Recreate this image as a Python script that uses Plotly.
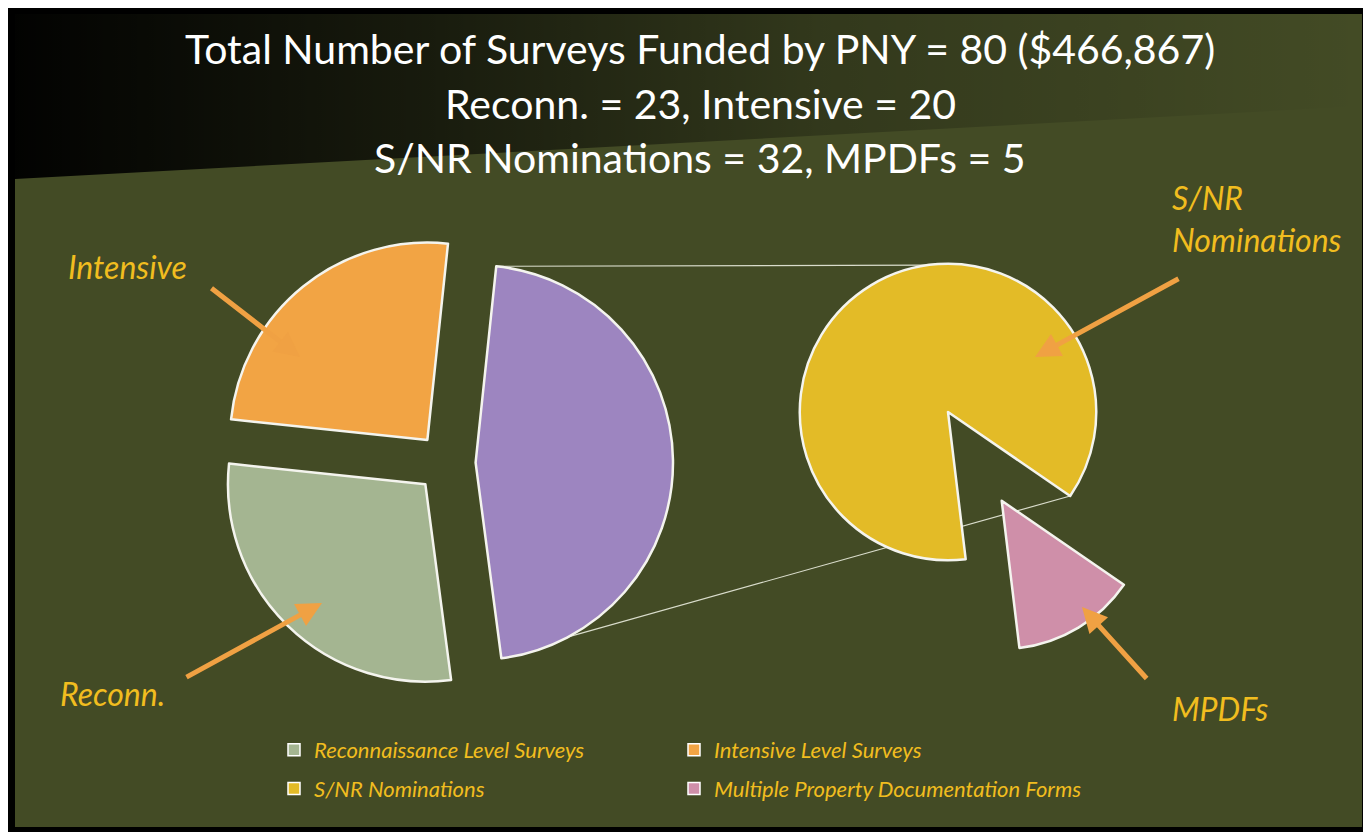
import math
import plotly.graph_objects as go

# ---------------- data ----------------
categories = ["Reconnaissance Level Surveys", "Intensive Level Surveys",
              "S/NR Nominations", "Multiple Property Documentation Forms"]
values = [23, 20, 32, 5]
colors = ["#a4b591", "#f2a444", "#e3bb27", "#cf8fa9"]
other_color = "#9d85c0"
short_labels = ["Reconn.", "Intensive", "S/NR<br>Nominations", "MPDFs"]
total_cost = "$466,867"

# page offset (body margin) and figure size
OX, OY = 8, 8
FW, FH = 1363, 824
OLIVE = "#434b25"
GOLD = "#f1bd1f"
ARROW = "#f0a143"
FONT = "Lato"

recon, intens, snr, mpdf = values
left_vals = [snr + mpdf, recon, intens]
left_cols = [other_color, colors[0], colors[1]]
left_pull = [0.15, 0.15, 0.15]
left_rot = 6
right_vals = [mpdf, snr]
right_cols = [colors[3], colors[2]]
right_pull = [0.7, 0.0]
right_rot = 124.5


def dom(x0, x1, y0, y1):
    """screen-pixel box -> pie domain fractions"""
    return dict(x=[(x0 - OX) / FW, (x1 - OX) / FW],
                y=[1 - (y1 - OY) / FH, 1 - (y0 - OY) / FH])


left_dom = dom(219, 673, 236, 690)
right_dom = dom(696, 1200, 160, 664)


def geom(d, pulls):
    w = FW * (d["x"][1] - d["x"][0])
    h = FH * (d["y"][1] - d["y"][0])
    r = min(w, h) / (2 + 2 * max(pulls))
    cx = OX + FW * (d["x"][0] + d["x"][1]) / 2
    cy = OY + FH * (1 - d["y"][0]) - h / 2
    return cx, cy, r


def pt(cx, cy, r, ang):
    a = math.radians(ang)
    return cx + r * math.sin(a), cy - r * math.cos(a)


# connector lines derived from the pie layout
lcx, lcy, lr = geom(left_dom, left_pull)
p_start = left_rot
p_end = left_rot + 360 * left_vals[0] / sum(left_vals)
p_mid = (p_start + p_end) / 2
ox, oy = pt(0, 0, left_pull[0] * lr, p_mid)
top_a = pt(lcx + ox, lcy + oy, lr, p_start)
bot_a = pt(lcx + ox, lcy + oy, lr, 152)
rcx, rcy, rr = geom(right_dom, right_pull)
top_b = pt(rcx, rcy, rr, 352)
bot_b = pt(rcx, rcy, rr, right_rot)

fig = go.Figure()

# dark gradient corner of the slide background
fig.add_trace(go.Scatter(
    x=[15, 1362, 1362, 15, 15], y=[14, 14, 106, 179, 14],
    fill="toself", mode="lines", line=dict(width=0),
    fillgradient=dict(type="horizontal",
                      colorscale=[[0, "rgba(0,0,0,0.97)"], [0.3, "rgba(0,0,0,0.65)"],
                                  [0.6, "rgba(0,0,0,0.25)"], [1, "rgba(0,0,0,0)"]]),
    hoverinfo="skip", showlegend=False))

# legend entries
for i, (name, col) in enumerate(zip(categories, colors)):
    fig.add_trace(go.Scatter(
        x=[-100], y=[-100], mode="markers", name=name,
        marker=dict(symbol="square", size=12, color=col,
                    line=dict(color="white", width=1.5)),
        legend="legend" if i in (0, 2) else "legend2",
        legendgroup=name, hoverinfo="skip"))

fig.add_trace(go.Pie(
    values=left_vals, labels=["Other", categories[0], categories[1]],
    marker=dict(colors=left_cols, line=dict(color="#f4f4ee", width=2.5)),
    pull=left_pull, rotation=left_rot, direction="clockwise", sort=False,
    textinfo="none", hoverinfo="skip", showlegend=False, domain=left_dom))

fig.add_trace(go.Pie(
    values=right_vals, labels=[categories[3], categories[2]],
    marker=dict(colors=right_cols, line=dict(color="#f4f4ee", width=2.5)),
    pull=right_pull, rotation=right_rot, direction="clockwise", sort=False,
    textinfo="none", hoverinfo="skip", showlegend=False, domain=right_dom))

shapes = [
    dict(type="rect", xref="x", yref="y", x0=15, x1=1362, y0=14, y1=827,
         fillcolor=OLIVE, line=dict(width=0), layer="below"),
    dict(type="line", xref="x", yref="y", x0=top_a[0], y0=top_a[1], x1=top_b[0], y1=top_b[1],
         line=dict(color="#d9dccb", width=1.2), layer="below"),
    dict(type="line", xref="x", yref="y", x0=bot_a[0], y0=bot_a[1], x1=bot_b[0], y1=bot_b[1],
         line=dict(color="#d9dccb", width=1.2), layer="below"),
]

title_lines = [
    f"Total Number of Surveys Funded by PNY = {sum(values)} ({total_cost})",
    f"Reconn. = {recon}, Intensive = {intens}",
    f"S/NR Nominations = {snr}, MPDFs = {mpdf}",
]
annotations = []
for txt, yy in zip(title_lines, [48, 103, 157]):
    annotations.append(dict(text=txt, x=700, y=yy, xref="x", yref="y", showarrow=False,
                            font=dict(family=FONT, size=41, color="white"),
                            xanchor="center", yanchor="middle"))

# label text positions and arrows (tail -> head), screen pixels
label_pos = [(58, 693), (66, 266), (1170, 218), (1170, 708)]
arrows = [((185, 678), (322, 603)), ((210, 287), (300, 357)),
          ((1180, 278), (1035, 357)), ((1148, 680), (1082, 607))]
for lab, (lx, ly) in zip(short_labels, label_pos):
    annotations.append(dict(text=f"<i>{lab}</i>", x=lx, y=ly, xref="x", yref="y",
                            showarrow=False, align="left",
                            font=dict(family=FONT, size=32, color=GOLD),
                            xanchor="left", yanchor="middle"))
for (tx, ty), (hx, hy) in arrows:
    annotations.append(dict(text="", x=hx, y=hy, ax=tx, ay=ty, xref="x", yref="y",
                            axref="x", ayref="y", showarrow=True, arrowhead=2,
                            arrowsize=1, arrowwidth=5, arrowcolor=ARROW))

legend_common = dict(font=dict(family=FONT, size=22, color=GOLD, style="italic"),
                     bgcolor="rgba(0,0,0,0)", tracegroupgap=7,
                     xanchor="left", yanchor="top", itemwidth=30)

fig.update_layout(
    width=FW, height=FH,
    margin=dict(l=0, r=0, t=0, b=0),
    paper_bgcolor="black", plot_bgcolor="rgba(0,0,0,0)",
    xaxis=dict(range=[OX, OX + FW], visible=False, domain=[0, 1], fixedrange=True),
    yaxis=dict(range=[OY + FH, OY], visible=False, domain=[0, 1], fixedrange=True),
    shapes=shapes, annotations=annotations,
    legend=dict(x=(274 - OX) / FW, y=1 - (729 - OY) / FH, **legend_common),
    legend2=dict(x=(674 - OX) / FW, y=1 - (729 - OY) / FH, **legend_common),
    showlegend=True,
)

fig.write_html("out.html")
